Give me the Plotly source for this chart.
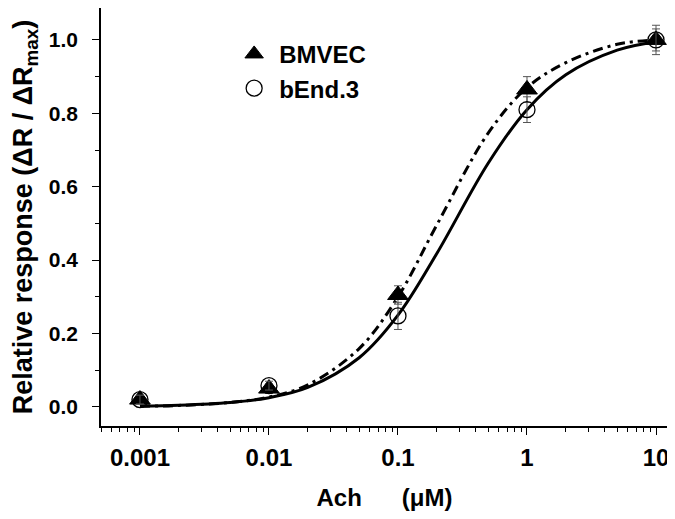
import plotly.graph_objects as go

# Data points (Ach concentration in µM)
conc = [0.001, 0.01, 0.1, 1, 10]
bmvec = [0.02, 0.05, 0.305, 0.865, 1.0]
bmvec_err = [0.01, 0.012, 0.025, 0.035, 0.03]
bend3 = [0.02, 0.058, 0.248, 0.81, 1.0]
bend3_err = [0.012, 0.012, 0.037, 0.035, 0.04]

# Fitted curves
curve_x = [0.001, 0.002, 0.005, 0.01, 0.02, 0.05, 0.1, 0.2, 0.5, 1, 2, 5, 10]
curve_bmvec = [0.002, 0.004, 0.012, 0.027, 0.060, 0.159, 0.300, 0.496, 0.746, 0.870, 0.938, 0.988, 1.0]
curve_bend3 = [0.002, 0.0044, 0.012, 0.025, 0.053, 0.134, 0.250, 0.418, 0.664, 0.810, 0.905, 0.972, 0.995]

x_tickvals = [0.001, 0.01, 0.1, 1, 10]
x_ticktext = ["0.001", "0.01", "0.1", "1", "10"]
y_tickvals = [0, 0.2, 0.4, 0.6, 0.8, 1.0]
y_ticktext = ["0.0", "0.2", "0.4", "0.6", "0.8", "1.0"]

FONT = "Liberation Sans, Arial, sans-serif"

fig = go.Figure()

fig.add_trace(go.Scatter(x=curve_x, y=curve_bend3, mode="lines", line=dict(color="black", width=3, shape="spline"),
                         showlegend=False, hoverinfo="skip"))
fig.add_trace(go.Scatter(x=curve_x, y=curve_bmvec, mode="lines",
                         line=dict(color="black", width=3, shape="spline", dash="10px,5px,3px,5px"),
                         showlegend=False, hoverinfo="skip"))

fig.add_trace(go.Scatter(x=conc, y=bmvec, mode="markers", name="<b>BMVEC</b>",
                         marker=dict(symbol="triangle-up", size=18, color="black", line=dict(color="black", width=1)),
                         error_y=dict(type="data", array=bmvec_err, color="#555555", thickness=1, width=4)))
fig.add_trace(go.Scatter(x=conc, y=bend3, mode="markers", name="<b>bEnd.3</b>",
                         marker=dict(symbol="circle", size=16, color="rgba(255,255,255,0)", line=dict(color="black", width=1.3)),
                         error_y=dict(type="data", array=bend3_err, color="#555555", thickness=1, width=4)))

fig.update_layout(
    width=675, height=519,
    margin=dict(l=93, r=15, t=0, b=101, pad=0),
    paper_bgcolor="white", plot_bgcolor="white",
    font=dict(family=FONT, size=20, color="black"),
    legend=dict(x=0.226, y=0.943, xanchor="left", yanchor="top", bgcolor="rgba(0,0,0,0)",
                font=dict(family=FONT, size=24, color="black"), itemwidth=40, tracegroupgap=0),
    xaxis=dict(
        type="log", range=[-3.302, 1.093], automargin=False,
        showline=True, linecolor="black", linewidth=1.5, mirror=False,
        showgrid=False, zeroline=False,
        ticks="outside", ticklen=7, tickwidth=1.2, tickcolor="black",
        tickvals=x_tickvals, ticktext=["<b>%s</b>" % t for t in x_ticktext],
        tickfont=dict(family=FONT, size=24, color="black"),
        ticklabelstandoff=2,
        minor=dict(ticks="outside", ticklen=4, tickwidth=1, tickcolor="black", dtick="D1", showgrid=False),
        title=dict(text="<b>Ach\u00a0\u00a0\u00a0\u00a0\u00a0\u00a0(\u03bcM)</b>", font=dict(family=FONT, size=24), standoff=20),
    ),
    yaxis=dict(
        range=[-0.052, 1.087], automargin=False,
        showline=True, linecolor="black", linewidth=1.5, mirror=False,
        showgrid=False, zeroline=False,
        ticks="outside", ticklen=7, tickwidth=1.2, tickcolor="black",
        tickvals=y_tickvals, ticktext=["<b>%s</b>" % t for t in y_ticktext],
        tickfont=dict(family=FONT, size=21, color="black"),
        ticklabelstandoff=10,
        minor=dict(ticks="outside", ticklen=4, tickwidth=1, tickcolor="black", dtick=0.1, tick0=0, showgrid=False),
        title=dict(text="<b>Relative response (\u0394R / \u0394R<sub>max</sub>)</b>", font=dict(family=FONT, size=27), standoff=18),
    ),
)

fig.write_html("out.html")
